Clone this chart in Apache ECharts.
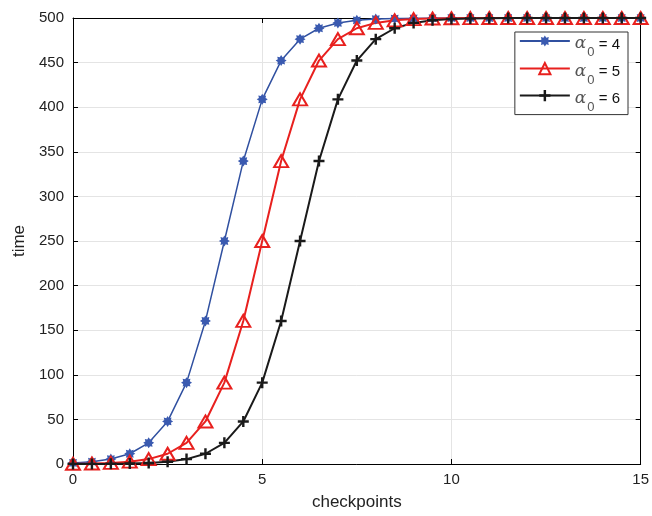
<!DOCTYPE html>
<html>
<head>
<meta charset="utf-8">
<script src="https://cdn.jsdelivr.net/npm/echarts@6/dist/echarts.min.js"></script>
<style>
  html, body { margin: 0; padding: 0; background: #fff; }
  #chart { width: 652px; height: 516px; }
</style>
</head>
<body>
<div id="chart"></div>
<script>
// checkpoints 0..15 step 0.5
const checkpoints = [0, 0.5, 1, 1.5, 2, 2.5, 3, 3.5, 4, 4.5, 5, 5.5, 6, 6.5, 7, 7.5,
  8, 8.5, 9, 9.5, 10, 10.5, 11, 11.5, 12, 12.5, 13, 13.5, 14, 14.5, 15];

// alpha_0 = 4
const timeA4 = [1.2, 2.6, 5.5, 11.5, 23.7, 47.7, 91.2, 160.4, 250, 339.6, 408.8, 452.3,
  476.3, 488.5, 494.5, 497.4, 498.8, 499.4, 499.7, 499.9, 500, 500, 500, 500, 500, 500,
  500, 500, 500, 500, 500];
// alpha_0 = 5
const timeA5 = [0.3, 0.6, 1.2, 2.6, 5.5, 11.5, 23.7, 47.7, 91.2, 160.4, 250, 339.6,
  408.8, 452.3, 476.3, 488.5, 494.5, 497.4, 498.8, 499.4, 499.7, 499.9, 500, 500, 500,
  500, 500, 500, 500, 500, 500];
// alpha_0 = 6
const timeA6 = [0.1, 0.1, 0.3, 0.6, 1.2, 2.6, 5.5, 11.5, 23.7, 47.7, 91.2, 160.4, 250,
  339.6, 408.8, 452.3, 476.3, 488.5, 494.5, 497.4, 498.8, 499.4, 499.7, 499.9, 500, 500,
  500, 500, 500, 500, 500];

const seriesNames = ['a4', 'a5', 'a6'];
const legendValues = { a4: '4', a5: '5', a6: '6' };

// marker shapes
function starPath() {
  let d = '';
  for (let i = 0; i < 16; i++) {
    const r = i % 2 === 0 ? 10 : 6.5;
    const a = Math.PI * i / 8 - Math.PI / 2;
    d += (i === 0 ? 'M' : 'L') + (10 + r * Math.cos(a)).toFixed(2) + ',' + (10 + r * Math.sin(a)).toFixed(2);
  }
  return 'path://' + d + 'Z';
}
const plusPath = 'path://M3.9,0H6.1V3.9H10V6.1H6.1V10H3.9V6.1H0V3.9H3.9Z';

const zip = arr => checkpoints.map((x, i) => [x, arr[i]]);

const chart = echarts.init(document.getElementById('chart'));
const font = '"Liberation Sans", Arial, Helvetica, sans-serif';

const axisCommon = {
  axisLine: { onZero: false, lineStyle: { color: '#000', width: 1 } },
  axisTick: { inside: true, length: 5, lineStyle: { color: '#000' } },
  axisLabel: { color: '#222', fontSize: 15, fontFamily: font }
};

chart.setOption({
  animation: false,
  backgroundColor: '#fff',
  grid: { left: 73, right: 9, top: 18, bottom: 48 },
  legend: {
    orient: 'vertical',
    right: 24,
    top: 32,
    data: seriesNames,
    backgroundColor: '#fff',
    borderColor: '#333',
    borderWidth: 1,
    padding: [3, 8, 1, 4],
    itemGap: 3,
    itemWidth: 50,
    itemHeight: 14,
    formatter: name => '{a|α}{s|0}{t| = ' + legendValues[name] + '}',
    textStyle: {
      rich: {
        a: { fontFamily: '"DejaVu Serif", serif', fontStyle: 'italic', fontSize: 17, color: '#555', lineHeight: 22, verticalAlign: 'bottom' },
        s: { fontFamily: font, fontSize: 13, color: '#555', lineHeight: 22, verticalAlign: 'bottom', padding: [0, 0, -7, 1] },
        t: { fontFamily: font, fontSize: 15, color: '#111', lineHeight: 22, verticalAlign: 'bottom' }
      }
    }
  },
  xAxis: [
    Object.assign({}, axisCommon, {
      type: 'value', min: 0, max: 15, interval: 5, position: 'bottom',
      name: 'checkpoints', nameLocation: 'middle', nameGap: 30,
      nameTextStyle: { fontSize: 17, fontFamily: font, color: '#222' },
      splitLine: { show: true, lineStyle: { color: '#e4e4e4', width: 1 } }
    }),
    Object.assign({}, axisCommon, {
      type: 'value', min: 0, max: 15, interval: 5, position: 'top',
      axisLabel: { show: false }, splitLine: { show: false }
    })
  ],
  yAxis: [
    Object.assign({}, axisCommon, {
      type: 'value', min: 0, max: 500, interval: 50, position: 'left',
      name: 'time', nameLocation: 'middle', nameGap: 44, nameRotate: 90,
      nameTextStyle: { fontSize: 17, fontFamily: font, color: '#222' },
      axisLabel: { color: '#222', fontSize: 15, fontFamily: font, margin: 9 },
      splitLine: { show: true, lineStyle: { color: '#e4e4e4', width: 1 } }
    }),
    Object.assign({}, axisCommon, {
      type: 'value', min: 0, max: 500, interval: 50, position: 'right',
      axisLabel: { show: false }, splitLine: { show: false }
    })
  ],
  series: [
    {
      name: 'a4', type: 'line', data: zip(timeA4),
      symbol: starPath(), symbolSize: 11, showAllSymbol: true,
      lineStyle: { color: '#3050a0', width: 1.5 },
      itemStyle: { color: '#3a5ab0' }
    },
    {
      name: 'a5', type: 'line', data: zip(timeA5),
      symbol: 'triangle', symbolSize: [14, 12], showAllSymbol: true,
      lineStyle: { color: '#e8201e', width: 2 },
      itemStyle: { color: 'rgba(255,255,255,0)', borderColor: '#e8201e', borderWidth: 2 }
    },
    {
      name: 'a6', type: 'line', data: zip(timeA6),
      symbol: plusPath, symbolSize: 11, showAllSymbol: true,
      lineStyle: { color: '#1a1a1a', width: 2 },
      itemStyle: { color: '#1a1a1a' }
    }
  ]
});
</script>
</body>
</html>
